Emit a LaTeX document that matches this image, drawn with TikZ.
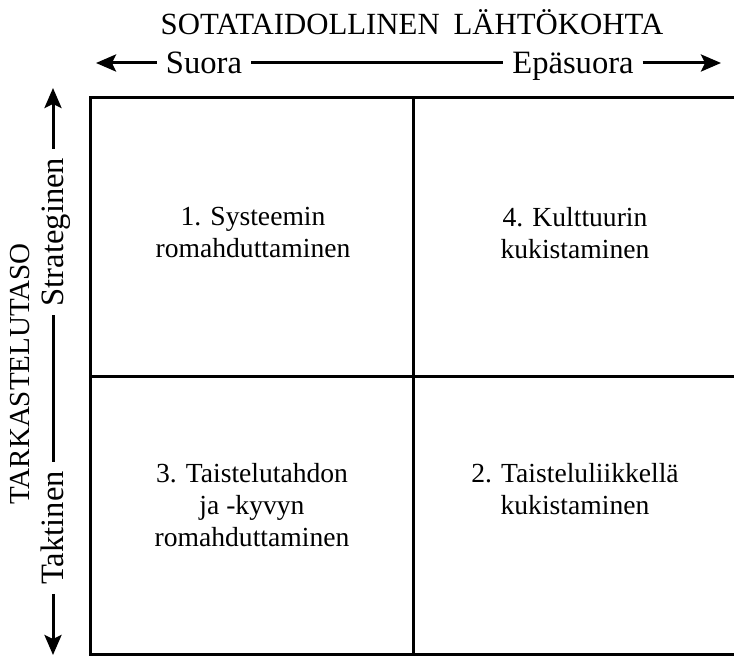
\documentclass[tikz,border=0pt]{standalone}
\usepackage{fontspec}
\setmainfont{Liberation Serif}
\usetikzlibrary{arrows.meta}
\tikzset{
	axislabel/.style={
			font=\fontsize{16.3}{19}\selectfont,
			inner sep=0pt, outer sep=4.5pt,
			text height=10.8pt, text depth=0pt
		},
	quadtext/.style={font=\fontsize{13.8}{16}\selectfont, align=center, inner sep=0pt},
	axisline/.style={line width=1.5pt},
	axisarrow/.style={axisline, -{Stealth[length=10pt,width=8.5pt,inset=2pt]}},
	frameline/.style={line width=1.5pt}
}

\begin{document}
\begin{tikzpicture}[x=0.5pt,y=-0.5pt]
	\useasboundingbox (0,0) rectangle (734,656);
	\clip (0,0) rectangle (734,656);

	\draw[frameline] (740,98) -| (90,655) -- (740,655);
	\draw[frameline] (413,98) -- (413,655);
	\draw[frameline] (90,377) -- (740,377);

	\node[font=\fontsize{15.4}{18}\selectfont] (title) at (412,22) {SOTATAIDOLLINEN\hspace{0.45em}LÄHTÖKOHTA};
	\coordinate (hleft) at (96,63);
	\coordinate (hright) at (721,63);
	\node[axislabel] (suora) at (204,63) {Suora};
	\node[axislabel] (epasuora) at (573,63) {Epäsuora};
	\draw[axisarrow] (suora) -- (hleft);
	\draw[axisline] (suora) -- (epasuora);
	\draw[axisarrow] (epasuora) -- (hright);

	\node[font=\fontsize{14.5}{17}\selectfont, rotate=90] (taso) at (20,374) {TARKASTELUTASO};
	\coordinate (vtop) at (53,88);
	\coordinate (vbottom) at (53,655);
	\node[axislabel, rotate=90] (strat) at (53,232) {Strateginen};
	\node[axislabel, rotate=90] (takt) at (53,528) {Taktinen};
	\draw[axisarrow] (strat) -- (vtop);
	\draw[axisline] (strat) -- (takt);
	\draw[axisarrow] (takt) -- (vbottom);

	\node[quadtext] (q1) at (253,233) {1. Systeemin\\romahduttaminen};
	\node[quadtext] (q4) at (575,233) {4. Kulttuurin\\kukistaminen};
	\node[quadtext, anchor=north] (q3) at (252,463) {3. Taistelutahdon\\ja -kyvyn\\romahduttaminen};
	\node[quadtext, anchor=north] (q2) at (575,463) {2. Taisteluliikkellä\\kukistaminen};
\end{tikzpicture}
\end{document}
